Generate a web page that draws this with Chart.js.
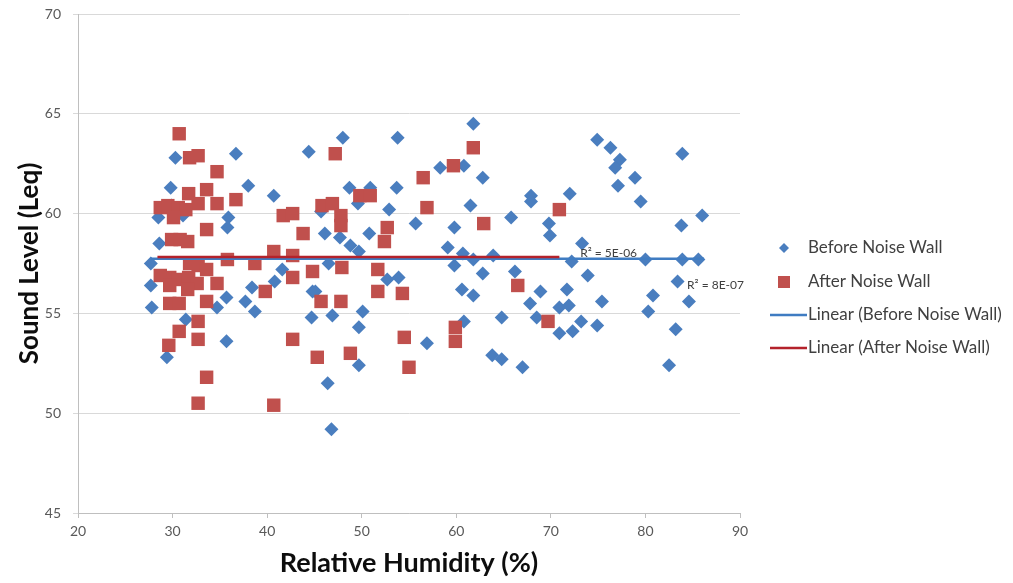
<!DOCTYPE html>
<html>
<head>
<meta charset="utf-8">
<script src="https://cdn.jsdelivr.net/npm/chart.js@4.4.1/dist/chart.umd.min.js"></script>
<style>
  html, body { margin: 0; padding: 0; background: #ffffff; }
  #wrap { width: 1013px; height: 583px; }
</style>
</head>
<body>
<div id="wrap"><canvas id="chart" width="1013" height="583"></canvas></div>
<script>
// ─── DATA ─────────────────────────────────────────────────────
const xTicks = [20, 30, 40, 50, 60, 70, 80, 90];
const yTicks = [45, 50, 55, 60, 65, 70];

// Before Noise Wall: relative humidity (%), sound level (Leq)
const beforeX = [
  30.3, 36.7, 44.4, 48.0, 53.8, 61.8, 29.8, 38.0, 40.7, 35.9,
  35.8, 28.6, 27.7, 27.7, 41.6, 38.4, 40.8, 44.8, 31.1, 28.5,
  29.9, 27.8, 31.4, 29.4, 35.7, 35.7, 34.7, 37.7, 38.7, 44.7,
  58.3, 60.8, 62.8, 48.7, 50.9, 53.7, 49.6, 52.9, 61.5, 65.8,
  45.7, 55.7, 59.8, 46.1, 50.8, 47.7, 48.8, 49.7, 59.1, 60.7,
  61.8, 63.9, 59.8, 46.5, 62.8, 66.2, 52.7, 53.9, 45.1, 60.6,
  61.8, 46.9, 50.1, 49.7, 60.8, 64.8, 56.9, 63.8, 64.8, 67.0,
  49.7, 46.4, 46.8, 74.9, 76.3, 77.3, 76.8, 83.9, 78.9, 77.1,
  67.9, 67.9, 72.0, 79.5, 86.0, 83.8, 69.8, 69.9, 73.3, 72.2,
  80.0, 83.9, 85.6, 73.9, 68.9, 71.7, 83.4, 67.8, 70.9, 71.9,
  75.4, 80.8, 84.6, 68.5, 73.2, 74.9, 80.3, 70.9, 72.3, 83.2,
  82.5
];
const beforeY = [
  62.8, 63.0, 63.1, 63.8, 63.8, 64.5, 61.3, 61.4, 60.9, 59.8,
  59.3, 58.5, 57.5, 56.4, 57.2, 56.3, 56.6, 56.1, 59.9, 59.8,
  60.4, 55.3, 54.7, 52.8, 53.6, 55.8, 55.3, 55.6, 55.1, 54.8,
  62.3, 62.4, 61.8, 61.3, 61.3, 61.3, 60.5, 60.2, 60.4, 59.8,
  60.1, 59.5, 59.3, 59.0, 59.0, 58.8, 58.4, 58.1, 58.3, 58.0,
  57.7, 57.9, 57.4, 57.5, 57.0, 57.1, 56.7, 56.8, 56.1, 56.2,
  55.9, 54.9, 55.1, 54.3, 54.6, 54.8, 53.5, 52.9, 52.7, 52.3,
  52.4, 51.5, 49.2, 63.7, 63.3, 62.7, 62.3, 63.0, 61.8, 61.4,
  60.9, 60.6, 61.0, 60.6, 59.9, 59.4, 59.5, 58.9, 58.5, 57.6,
  57.7, 57.7, 57.7, 56.9, 56.1, 56.2, 56.6, 55.5, 55.3, 55.4,
  55.6, 55.9, 55.6, 54.8, 54.6, 54.4, 55.1, 54.0, 54.1, 54.2,
  52.4
];

// After Noise Wall
const afterX = [
  30.7, 31.8, 32.7, 34.7, 31.7, 33.6, 32.7, 34.7, 36.7, 28.7,
  29.5, 30.6, 31.4, 30.1, 41.7, 42.7, 33.6, 43.8, 29.9, 30.8,
  31.6, 40.7, 35.8, 38.7, 42.7, 31.8, 32.7, 33.6, 28.7, 29.7,
  30.6, 31.7, 32.6, 34.7, 42.7, 44.8, 39.8, 29.7, 31.6, 29.7,
  30.7, 33.6, 32.7, 30.7, 32.7, 29.6, 42.7, 45.3, 33.6, 32.7,
  40.7, 47.2, 61.8, 59.7, 56.5, 49.8, 50.9, 56.9, 45.8, 46.9,
  47.8, 47.8, 62.9, 52.7, 52.4, 47.9, 51.7, 51.7, 54.3, 45.7,
  47.8, 66.5, 59.9, 59.9, 54.5, 48.8, 55.0, 70.9, 69.7
];
const afterY = [
  64.0, 62.8, 62.9, 62.1, 61.0, 61.2, 60.5, 60.5, 60.7, 60.3,
  60.4, 60.3, 60.2, 59.8, 59.9, 60.0, 59.2, 59.0, 58.7, 58.7,
  58.6, 58.1, 57.7, 57.5, 57.9, 57.5, 57.4, 57.2, 56.9, 56.8,
  56.7, 56.8, 56.5, 56.5, 56.8, 57.1, 56.1, 56.4, 56.2, 55.5,
  55.5, 55.6, 54.6, 54.1, 53.7, 53.4, 53.7, 52.8, 51.8, 50.5,
  50.4, 63.0, 63.3, 62.4, 61.8, 60.9, 60.9, 60.3, 60.4, 60.5,
  59.9, 59.4, 59.5, 59.3, 58.6, 57.3, 57.2, 56.1, 56.0, 55.6,
  55.6, 56.4, 54.3, 53.6, 53.8, 53.0, 52.3, 60.2, 54.6
];

// Linear trend lines (start / end)
const trendBeforeX = [27.7, 86.2];
const trendBeforeY = [57.74, 57.74];
const trendAfterX = [28.4, 70.9];
const trendAfterY = [57.82, 57.82];

const seriesNames = [
  "Before Noise Wall",
  "After Noise Wall",
  "Linear (Before Noise Wall)",
  "Linear (After Noise Wall)",
];
const r2Labels = ["R\u00b2 = 5E-06", "R\u00b2 = 8E-07"];

// ─── STYLE ────────────────────────────────────────────────────
const BLUE = "#4a7ebf";
const RED = "#c0504d";
const BLUE_LINE = "#3f7cc2";
const RED_LINE = "#b4222b";
const FONT = "Lato, 'Open Sans', sans-serif";

const toPoints = (xs, ys) => xs.map((x, i) => ({ x, y: ys[i] }));

// R² labels next to the trend lines, anchored in data units
const r2Plugin = {
  id: "r2Labels",
  afterDatasetsDraw(chart) {
    const { ctx, scales } = chart;
    const anchors = [[73.1, 58.03], [84.4, 56.42]];
    ctx.save();
    ctx.font = "12px " + FONT;
    ctx.fillStyle = "#404040";
    ctx.textBaseline = "middle";
    r2Labels.forEach((txt, i) => {
      ctx.fillText(txt, scales.x.getPixelForValue(anchors[i][0]), scales.y.getPixelForValue(anchors[i][1]));
    });
    ctx.restore();
  },
};

// Legend on the right, Excel style
const legendPlugin = {
  id: "sideLegend",
  afterDraw(chart) {
    const ctx = chart.ctx;
    const rowsY = [248, 282, 315, 348];
    const markX = 784;
    const textX = 808;
    ctx.save();
    ctx.font = "17px " + FONT;
    ctx.textBaseline = "middle";
    seriesNames.forEach((name, i) => {
      const y = rowsY[i];
      if (i === 0) {
        ctx.fillStyle = BLUE;
        ctx.beginPath();
        ctx.moveTo(markX, y - 5);
        ctx.lineTo(markX + 5, y);
        ctx.lineTo(markX, y + 5);
        ctx.lineTo(markX - 5, y);
        ctx.closePath();
        ctx.fill();
      } else if (i === 1) {
        ctx.fillStyle = RED;
        ctx.fillRect(markX - 6, y - 6, 12, 12);
      } else {
        ctx.strokeStyle = i === 2 ? BLUE_LINE : RED_LINE;
        ctx.lineWidth = 2.5;
        ctx.beginPath();
        ctx.moveTo(770, y);
        ctx.lineTo(807, y);
        ctx.stroke();
      }
      ctx.fillStyle = "#404040";
      ctx.fillText(name, textX, y);
    });
    ctx.restore();
  },
};

new Chart(document.getElementById("chart"), {
  type: "scatter",
  data: {
    datasets: [
      {
        label: seriesNames[3],
        type: "line",
        data: toPoints(trendAfterX, trendAfterY),
        borderColor: RED_LINE,
        borderWidth: 2.5,
        pointRadius: 0,
        fill: false,
        order: 0,
      },
      {
        label: seriesNames[2],
        type: "line",
        data: toPoints(trendBeforeX, trendBeforeY),
        borderColor: BLUE_LINE,
        borderWidth: 2.5,
        pointRadius: 0,
        fill: false,
        order: 1,
      },
      {
        label: seriesNames[1],
        data: toPoints(afterX, afterY),
        pointStyle: "rect",
        pointRadius: 9.5,
        backgroundColor: RED,
        borderColor: RED,
        borderWidth: 0,
        order: 2,
      },
      {
        label: seriesNames[0],
        data: toPoints(beforeX, beforeY),
        pointStyle: "rectRot",
        pointRadius: 7,
        backgroundColor: BLUE,
        borderColor: BLUE,
        borderWidth: 0,
        order: 3,
      },
    ],
  },
  options: {
    responsive: false,
    animation: false,
    events: [],
    layout: { padding: { top: 14, right: 273, left: 0, bottom: 0 } },
    plugins: {
      legend: { display: false },
      tooltip: { enabled: false },
    },
    scales: {
      x: {
        type: "linear",
        min: xTicks[0],
        max: xTicks[xTicks.length - 1],
        afterBuildTicks: (s) => { s.ticks = xTicks.map(v => ({ value: v })); },
        afterFit: (s) => { s.height = 70; s.paddingLeft = 0; s.paddingRight = 0; },
        border: { color: "#bfbfbf", width: 1 },
        grid: { drawOnChartArea: false, color: "#bfbfbf", tickLength: 5 },
        ticks: { color: "#595959", font: { family: FONT, size: 14 }, padding: 5 },
        title: {
          display: true,
          text: "Relative Humidity (%)",
          color: "#0d0d0d",
          font: { family: FONT, size: 27, weight: "bold" },
          padding: { top: 3 },
        },
      },
      y: {
        type: "linear",
        min: yTicks[0],
        max: yTicks[yTicks.length - 1],
        afterBuildTicks: (s) => { s.ticks = yTicks.map(v => ({ value: v })); },
        afterFit: (s) => { s.width = 78; s.paddingTop = 0; s.paddingBottom = 0; },
        border: { color: "#bfbfbf", width: 1 },
        grid: { color: "#d9d9d9", tickLength: 5 },
        ticks: { color: "#595959", font: { family: FONT, size: 14 }, padding: 12 },
        title: {
          display: true,
          text: "Sound Level (Leq)",
          color: "#0d0d0d",
          font: { family: FONT, size: 26, weight: "bold" },
          padding: { top: 14, bottom: 4 },
        },
      },
    },
  },
  plugins: [r2Plugin, legendPlugin],
});
</script>
</body>
</html>
